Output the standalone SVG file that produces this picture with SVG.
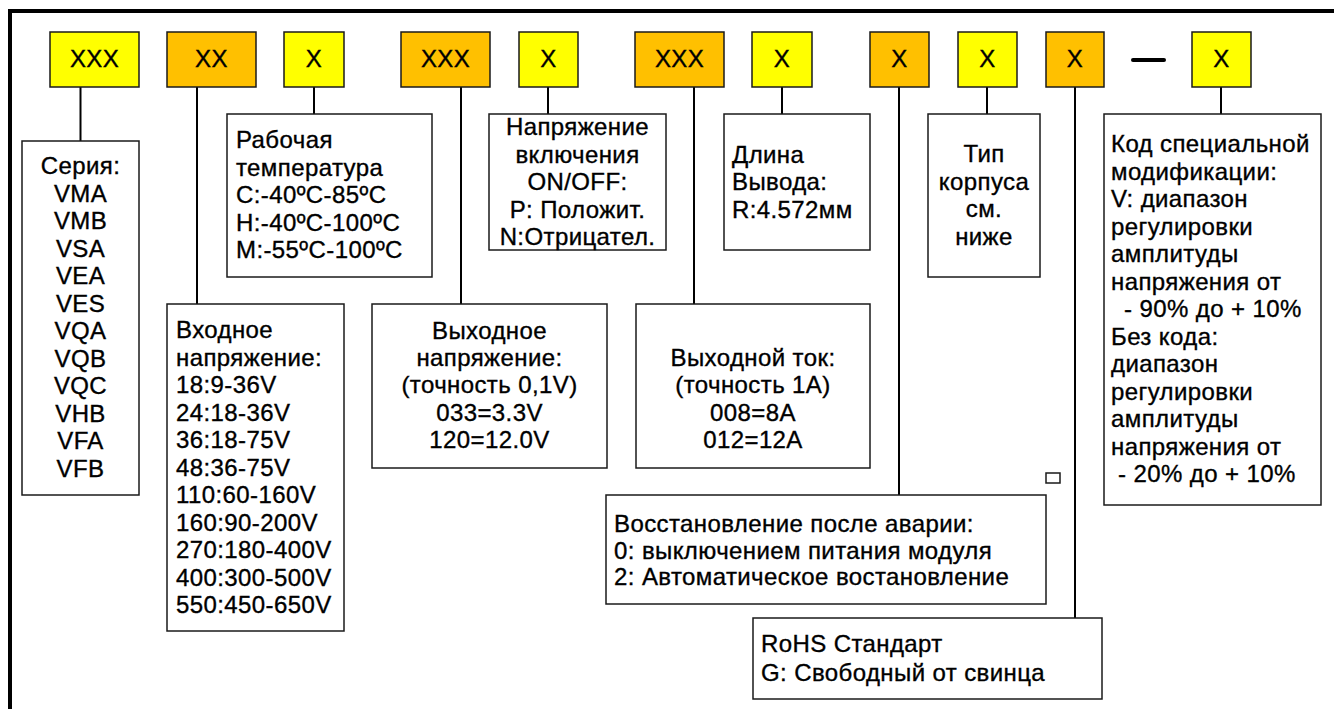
<svg xmlns="http://www.w3.org/2000/svg" width="1334" height="709" viewBox="0 0 1334 709">
<style>
  .code { stroke: #1a1a1a; stroke-width: 1.5; }
  .y { fill: #FFFF00; }
  .o { fill: #FFC000; }
  .box { fill: #ffffff; stroke: #1a1a1a; stroke-width: 1.5; }
  .t { font-family: "Liberation Sans", Arial, sans-serif; font-size: 24px; letter-spacing: 0.4px; fill: #000; stroke: #000; stroke-width: 0.35px; }
  .c { text-anchor: middle; }
  .conn line { stroke: #000; stroke-width: 2; }
</style>
<rect width="1334" height="709" fill="#ffffff"/>
<g id="frame">
  <path d="M10 709 V11 H1334" fill="none" stroke="#000" stroke-width="4"/>
</g>

<g class="conn" id="connectors">
  <line x1="80.5" y1="87" x2="80.5" y2="141"/>
  <line x1="197" y1="87" x2="197" y2="304"/>
  <line x1="314" y1="87" x2="314" y2="114"/>
  <line x1="461" y1="87" x2="461" y2="304"/>
  <line x1="548" y1="87" x2="548" y2="114"/>
  <line x1="694" y1="87" x2="694" y2="304"/>
  <line x1="782" y1="87" x2="782" y2="114"/>
  <line x1="899" y1="87" x2="899" y2="495"/>
  <line x1="987" y1="87" x2="987" y2="114"/>
  <line x1="1075" y1="87" x2="1075" y2="618"/>
  <line x1="1221" y1="87" x2="1221" y2="114"/>
</g>

<g id="code1"><rect class="code y" x="50" y="32" width="89" height="55"/><text class="t c" x="94.5" y="67">XXX</text></g>
<g id="code2"><rect class="code o" x="167" y="32" width="89" height="55"/><text class="t c" x="211.5" y="67">XX</text></g>
<g id="code3"><rect class="code y" x="284" y="32" width="60" height="55"/><text class="t c" x="314" y="67">X</text></g>
<g id="code4"><rect class="code o" x="401" y="32" width="89" height="55"/><text class="t c" x="445.5" y="67">XXX</text></g>
<g id="code5"><rect class="code y" x="519" y="32" width="59" height="55"/><text class="t c" x="548.5" y="67">X</text></g>
<g id="code6"><rect class="code o" x="635" y="32" width="89" height="55"/><text class="t c" x="679.5" y="67">XXX</text></g>
<g id="code7"><rect class="code y" x="752" y="32" width="60" height="55"/><text class="t c" x="782" y="67">X</text></g>
<g id="code8"><rect class="code o" x="870" y="32" width="59" height="55"/><text class="t c" x="899.5" y="67">X</text></g>
<g id="code9"><rect class="code y" x="958" y="32" width="59" height="55"/><text class="t c" x="987.5" y="67">X</text></g>
<g id="code10"><rect class="code o" x="1046" y="32" width="58" height="55"/><text class="t c" x="1075" y="67">X</text></g>
<g id="dash"><line x1="1133" y1="60" x2="1164" y2="60" stroke="#000" stroke-width="4" stroke-linecap="round"/></g>
<g id="code11"><rect class="code y" x="1192" y="32" width="59" height="55"/><text class="t c" x="1221.5" y="67">X</text></g>

<g id="series">
  <rect class="box" x="22" y="141" width="117" height="354"/>
  <text class="t c" x="80.5" y="174">Серия:</text>
  <text class="t c" x="80.5" y="201.5">VMA</text>
  <text class="t c" x="80.5" y="229">VMB</text>
  <text class="t c" x="80.5" y="256.5">VSA</text>
  <text class="t c" x="80.5" y="284">VEA</text>
  <text class="t c" x="80.5" y="311.5">VES</text>
  <text class="t c" x="80.5" y="339">VQA</text>
  <text class="t c" x="80.5" y="366.5">VQB</text>
  <text class="t c" x="80.5" y="394">VQC</text>
  <text class="t c" x="80.5" y="421.5">VHB</text>
  <text class="t c" x="80.5" y="449">VFA</text>
  <text class="t c" x="80.5" y="476.5">VFB</text>
</g>

<g id="input-voltage">
  <rect class="box" x="167" y="304" width="177" height="327"/>
  <text class="t" x="176" y="338">Входное</text>
  <text class="t" x="176" y="365.5">напряжение:</text>
  <text class="t" x="176" y="393">18:9-36V</text>
  <text class="t" x="176" y="420.5">24:18-36V</text>
  <text class="t" x="176" y="448">36:18-75V</text>
  <text class="t" x="176" y="475.5">48:36-75V</text>
  <text class="t" x="176" y="503">110:60-160V</text>
  <text class="t" x="176" y="530.5">160:90-200V</text>
  <text class="t" x="176" y="558">270:180-400V</text>
  <text class="t" x="176" y="585.5">400:300-500V</text>
  <text class="t" x="176" y="613">550:450-650V</text>
</g>

<g id="temperature">
  <rect class="box" x="227" y="114" width="205" height="163"/>
  <text class="t" x="236" y="148">Рабочая</text>
  <text class="t" x="236" y="175.5">температура</text>
  <text class="t" x="236" y="203">C:-40ºC-85ºC</text>
  <text class="t" x="236" y="230.5">H:-40ºC-100ºC</text>
  <text class="t" x="236" y="258">M:-55ºC-100ºC</text>
</g>

<g id="output-voltage">
  <rect class="box" x="372" y="304" width="235" height="164"/>
  <text class="t c" x="489.5" y="339">Выходное</text>
  <text class="t c" x="489.5" y="366">напряжение:</text>
  <text class="t c" x="489.5" y="393">(точность 0,1V)</text>
  <text class="t c" x="489.5" y="421">033=3.3V</text>
  <text class="t c" x="489.5" y="448">120=12.0V</text>
</g>

<g id="on-off">
  <rect class="box" x="489" y="114" width="177" height="136"/>
  <text class="t c" x="577.5" y="135">Напряжение</text>
  <text class="t c" x="577.5" y="162.5">включения</text>
  <text class="t c" x="577.5" y="190">ON/OFF:</text>
  <text class="t c" x="577.5" y="217.5">P: Положит.</text>
  <text class="t c" x="577.5" y="245">N:Отрицател.</text>
</g>

<g id="output-current">
  <rect class="box" x="636" y="304" width="234" height="164"/>
  <text class="t c" x="753" y="366">Выходной ток:</text>
  <text class="t c" x="753" y="393">(точность 1A)</text>
  <text class="t c" x="753" y="421">008=8A</text>
  <text class="t c" x="753" y="448">012=12A</text>
</g>

<g id="pin-length">
  <rect class="box" x="724" y="114" width="146" height="136"/>
  <text class="t" x="732" y="163">Длина</text>
  <text class="t" x="732" y="190">Вывода:</text>
  <text class="t" x="732" y="218">R:4.572мм</text>
</g>

<g id="package">
  <rect class="box" x="928" y="114" width="112" height="163"/>
  <text class="t c" x="984" y="162">Тип</text>
  <text class="t c" x="984" y="190">корпуса</text>
  <text class="t c" x="984" y="217">см.</text>
  <text class="t c" x="984" y="245">ниже</text>
</g>

<g id="special-code">
  <rect class="box" x="1104" y="114" width="217" height="391"/>
  <text class="t" x="1111" y="152">Код специальной</text>
  <text class="t" x="1111" y="179.5">модификации:</text>
  <text class="t" x="1111" y="207">V: диапазон</text>
  <text class="t" x="1111" y="234.5">регулировки</text>
  <text class="t" x="1111" y="262">амплитуды</text>
  <text class="t" x="1111" y="289.5">напряжения от</text>
  <text class="t" x="1124" y="317">- 90% до + 10%</text>
  <text class="t" x="1111" y="344.5">Без кода:</text>
  <text class="t" x="1111" y="372">диапазон</text>
  <text class="t" x="1111" y="399.5">регулировки</text>
  <text class="t" x="1111" y="427">амплитуды</text>
  <text class="t" x="1111" y="454.5">напряжения от</text>
  <text class="t" x="1118" y="482">- 20% до + 10%</text>
</g>

<g id="marker-square"><rect class="box" x="1046" y="473" width="14" height="10"/></g>

<g id="recovery">
  <rect class="box" x="606" y="495" width="440" height="109"/>
  <text class="t" x="614" y="532">Восстановление после аварии:</text>
  <text class="t" x="614" y="558.5">0: выключением питания модуля</text>
  <text class="t" x="614" y="585">2: Автоматическое востановление</text>
</g>

<g id="rohs">
  <rect class="box" x="753" y="618" width="349" height="81"/>
  <text class="t" x="761" y="652">RoHS Стандарт</text>
  <text class="t" x="761" y="681">G: Свободный от свинца</text>
</g>
</svg>
